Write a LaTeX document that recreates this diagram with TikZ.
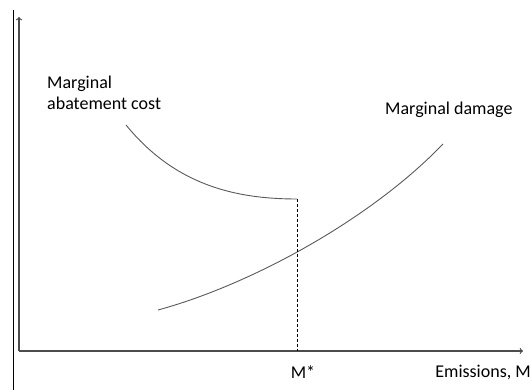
\documentclass[tikz,border=0pt]{standalone}
\usepackage{fontspec}
\setmainfont{Carlito}
\usetikzlibrary{arrows,positioning}
\tikzstyle{lbl} = [inner sep=0pt, font=\fontsize{18}{21}\selectfont, align=left]
\tikzstyle{curve} = [draw=black!65, line width=0.9pt]
\tikzstyle{axis} = [draw=black!70, line width=1.2pt, ->]

\begin{document}
\begin{tikzpicture}[x=1pt,y=1pt,>=to]
    \useasboundingbox (0,0) rectangle (530,390);
    \coordinate (top) at (13.5,380);
    \coordinate (bot) at (13.5,0);
    \coordinate (O) at (19,39);
    \coordinate (ytip) at (19,373);
    \coordinate (xtip) at (523,39);
    \coordinate (Mbase) at (297,39);
    \coordinate (Mtop) at (297,191);
    \coordinate (macstart) at (126,265);
    \coordinate (mdstart) at (158,80);
    \coordinate (mdend) at (443,246);

    \node [lbl, anchor=west] (mac) at (47,297) {Marginal\\abatement cost};
    \node [lbl, anchor=west] (md) at (385,280) {Marginal damage};
    \node [lbl] (mstar) at (303,18) {M*};
    \node [lbl, anchor=east] (emis) at (531,18) {Emissions, M};

    \draw [black, line width=1pt] (top) -- (bot);
    \draw [axis] (O) -- (ytip);
    \draw [axis] (O) -- (xtip);

    \draw [curve] (macstart) .. controls (175,205) and (235,191) .. (Mtop);
    \draw [curve] (mdstart) .. controls (250,105) and (370,170) .. (mdend);
    \draw [black, line width=0.8pt, dash pattern=on 3pt off 2pt] (Mtop) -- (Mbase);
\end{tikzpicture}
\end{document}
